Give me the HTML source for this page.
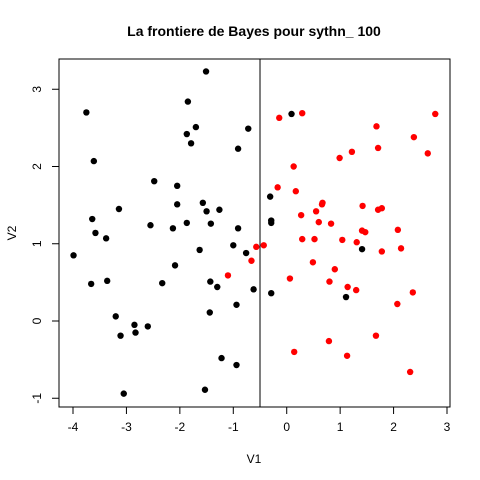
<!DOCTYPE html>
<html><head><meta charset="utf-8"><style>
html,body{margin:0;padding:0;background:#fff;}
svg{display:block;font-family:"Liberation Sans",Arial,sans-serif;}
</style></head><body>
<svg id="chart" width="480" height="480">
<text x="254" y="36" text-anchor="middle" font-size="14" font-weight="bold">La frontiere de Bayes pour sythn_ 100</text>
<rect x="59" y="59" width="391" height="348" fill="none" stroke="#000" stroke-width="1"/>
<g id="xaxis"></g>
<g id="yaxis"></g>
<text x="254" y="463" text-anchor="middle" font-size="12">V1</text>
<text x="0" y="0" transform="translate(16,233) rotate(-90)" text-anchor="middle" font-size="12">V2</text>
<g id="points"></g>
</svg>
<script>
const xTicks=[-4,-3,-2,-1,0,1,2,3];
const yTicks=[-1,0,1,2,3];
const boundary=-0.5;
const blackX=[-1.51,-1.85,-3.75,-1.70,-1.87,-1.79,-0.72,-0.91,-3.61,-2.48,-2.05,-2.05,-1.57,-1.50,-1.26,-3.14,-3.64,-3.58,-2.55,-2.13,-1.87,-1.42,-0.91,-3.38,-3.99,-1.63,-1.00,-0.76,-2.09,-3.66,-3.36,-2.33,-1.43,-1.30,-0.62,-0.94,-1.44,-3.20,-2.85,-2.60,-3.11,-2.83,-1.22,-0.94,-3.05,-1.53,0.09,-0.31,-0.29,-0.29,1.41,-0.29,1.11];
const blackY=[3.23,2.84,2.70,2.51,2.42,2.30,2.49,2.23,2.07,1.81,1.75,1.51,1.53,1.42,1.44,1.45,1.32,1.14,1.24,1.20,1.27,1.26,1.20,1.07,0.85,0.92,0.98,0.88,0.72,0.48,0.52,0.49,0.51,0.44,0.41,0.21,0.11,0.06,-0.05,-0.07,-0.19,-0.15,-0.48,-0.57,-0.94,-0.89,2.68,1.61,1.30,1.27,0.93,0.36,0.31];
const redX=[-0.57,-0.43,-0.66,-1.10,-0.14,0.29,2.78,1.68,2.38,1.71,1.22,0.99,2.64,0.13,-0.17,0.17,0.67,0.66,1.42,1.71,1.78,0.27,0.55,0.60,0.83,1.41,1.47,2.08,0.29,0.52,1.04,1.31,1.78,2.14,0.49,0.90,0.06,0.80,1.14,1.30,2.36,2.07,1.67,0.79,0.14,1.13,2.31];
const redY=[0.96,0.98,0.78,0.59,2.63,2.69,2.68,2.52,2.38,2.24,2.19,2.11,2.17,2.00,1.73,1.68,1.53,1.51,1.49,1.44,1.46,1.37,1.42,1.28,1.26,1.17,1.15,1.18,1.06,1.06,1.05,1.02,0.90,0.94,0.76,0.67,0.55,0.51,0.44,0.40,0.37,0.22,-0.19,-0.26,-0.40,-0.45,-0.66];
const sx=v=>73+(v+4)*53.43;
const sy=v=>321-v*77.25;
const NS='http://www.w3.org/2000/svg';
const xa=document.getElementById('xaxis'),ya=document.getElementById('yaxis'),pg=document.getElementById('points');
function mk(tag,attrs,parent){const e=document.createElementNS(NS,tag);for(const k in attrs)e.setAttribute(k,attrs[k]);parent.appendChild(e);return e;}
mk('line',{x1:sx(xTicks[0]),x2:sx(xTicks[xTicks.length-1]),y1:407,y2:407,stroke:'#000'},xa);
xTicks.forEach(t=>{
  const l=mk('line',{x1:sx(t),x2:sx(t),y1:407,y2:414,stroke:'#000'},xa);
  
  
  const tx=mk('text',{x:sx(t),y:431,'text-anchor':'middle','font-size':'12'},xa);tx.textContent=t;
  
  
});
mk('line',{x1:59,x2:59,y1:sy(yTicks[0]),y2:sy(yTicks[yTicks.length-1]),stroke:'#000'},ya);
yTicks.forEach(t=>{
  const l=mk('line',{x1:52,x2:59,y1:sy(t),y2:sy(t),stroke:'#000'},ya);
  
  
  const tx=mk('text',{x:0,y:0,transform:`translate(41,${sy(t)}) rotate(-90)`,'text-anchor':'middle','font-size':'12'},ya);tx.textContent=t;
  
  
});
const bl=mk('line',{x1:sx(boundary),x2:sx(boundary),y1:59,y2:407,stroke:'#000'},pg);


blackX.forEach((v,i)=>{
  const c=mk('circle',{cx:sx(v),cy:sy(blackY[i]),r:3.2,fill:'#000'},pg);
  
  
});
redX.forEach((v,i)=>{
  const c=mk('circle',{cx:sx(v),cy:sy(redY[i]),r:3.2,fill:'#ff0000'},pg);
  
  
});
</script>
</body></html>
